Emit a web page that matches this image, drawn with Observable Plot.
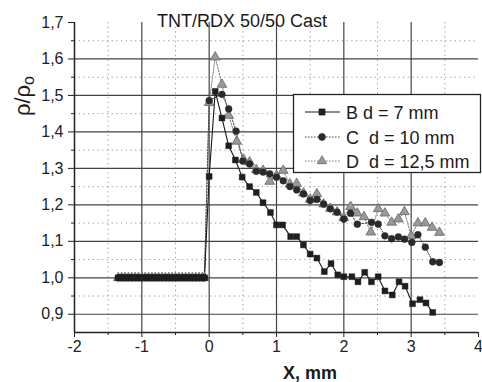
<!DOCTYPE html>
<html>
<head>
<meta charset="utf-8">
<script src="https://cdn.jsdelivr.net/npm/d3@7"></script>
<script src="https://cdn.jsdelivr.net/npm/@observablehq/plot@0.6"></script>
<style>
  html, body { margin: 0; padding: 0; background: #fff; }
  #chart { position: relative; width: 482px; height: 382px; }
</style>
</head>
<body>
<div id="chart"></div>
<script>
const title = "TNT/RDX 50/50 Cast";
const xLabel = "X, mm";
const legendLabels = ["B d = 7 mm", "C  d = 10 mm", "D  d = 12,5 mm"];

const xMajor = [-2, -1, 0, 1, 2, 3, 4];
const xMinor = [-1.5, -0.5, 0.5, 1.5, 2.5, 3.5];
const yMajor = [0.9, 1.0, 1.1, 1.2, 1.3, 1.4, 1.5, 1.6, 1.7];
const yMinor = [0.95, 1.05, 1.15, 1.25, 1.35, 1.45, 1.55, 1.65];

// flat pre-shock region (all series at rho/rho0 = 1)
const flatX = [-1.35,-1.3,-1.25,-1.2,-1.15,-1.1,-1.05,-1.0,-0.95,-0.9,-0.85,-0.8,-0.75,-0.7,-0.65,-0.6,-0.55,-0.5,-0.45,-0.4,-0.35,-0.3,-0.25,-0.2,-0.15,-0.1,-0.07];
const flatY = [1,1,1,1,1,1,1,1,1,1,1,1,1,1,1,1,1,1,1,1,1,1,1,1,1,1,1];

const bX = [0.0,0.09,0.19,0.29,0.39,0.49,0.60,0.70,0.80,0.91,1.00,1.09,1.21,1.30,1.40,1.50,1.60,1.71,1.81,1.91,2.00,2.12,2.21,2.31,2.41,2.51,2.61,2.72,2.82,2.91,3.02,3.13,3.22,3.32];
const bY = [1.278,1.511,1.438,1.362,1.323,1.276,1.25,1.234,1.206,1.179,1.145,1.145,1.113,1.113,1.09,1.065,1.054,1.017,1.039,1.008,1.003,1.003,0.989,1.015,0.989,1.003,0.964,0.953,0.989,0.977,0.929,0.94,0.931,0.905];

const cX = [0.0,0.19,0.29,0.40,0.50,0.60,0.70,0.80,0.90,1.00,1.10,1.20,1.30,1.40,1.50,1.60,1.70,1.80,1.90,2.00,2.10,2.20,2.41,2.51,2.61,2.71,2.81,2.90,3.01,3.10,3.21,3.32,3.42];
const cY = [1.486,1.503,1.463,1.402,1.32,1.312,1.292,1.29,1.285,1.276,1.266,1.25,1.241,1.23,1.212,1.215,1.202,1.189,1.18,1.161,1.177,1.147,1.152,1.147,1.115,1.107,1.112,1.106,1.097,1.118,1.084,1.044,1.042];

const dX = [0.0,0.09,0.19,0.29,0.41,0.51,0.60,0.70,0.80,0.90,1.00,1.10,1.20,1.30,1.40,1.50,1.60,1.70,1.80,1.90,2.00,2.10,2.20,2.30,2.40,2.51,2.61,2.71,2.81,2.90,3.00,3.10,3.21,3.31,3.42];
const dY = [1.48,1.605,1.53,1.445,1.374,1.325,1.317,1.296,1.294,1.264,1.28,1.294,1.257,1.258,1.232,1.215,1.23,1.202,1.19,1.18,1.165,1.195,1.177,1.167,1.125,1.189,1.177,1.152,1.161,1.181,1.115,1.15,1.15,1.138,1.124];

const toRows = (xs, ys) => xs.map((x, i) => ({x, y: ys[i]}));
const B = toRows(flatX.concat(bX), flatY.concat(bY));
const C = toRows(flatX.concat(cX), flatY.concat(cY));
const D = toRows(flatX.concat(dX), flatY.concat(dY));

const fmt = d => d.toFixed(1).replace(".", ",");
const FONT = "'Liberation Sans', Arial, sans-serif";

const plot = Plot.plot({
  width: 482,
  height: 382,
  marginLeft: 74,
  marginRight: 4,
  marginTop: 22,
  marginBottom: 50,
  style: {fontFamily: FONT, background: "#fff", color: "#222"},
  x: {domain: [-2, 4], label: null},
  y: {domain: [0.85, 1.7], label: null},
  marks: [
    Plot.ruleY(yMinor, {stroke: "#888", strokeWidth: 0.9, strokeDasharray: "1.2,3.5"}),
    Plot.ruleX(xMinor, {stroke: "#888", strokeWidth: 0.9, strokeDasharray: "1.2,3.5"}),
    Plot.ruleY(yMajor.filter(d => d < 1.7), {stroke: "#444", strokeWidth: 1.2}),
    Plot.ruleX(xMajor.filter(d => d > -2 && d < 4), {stroke: "#444", strokeWidth: 1.2}),
    Plot.axisY({ticks: yMinor, tickSize: 3, text: null, label: null, stroke: "#222"}),
    Plot.axisY({ticks: yMajor, tickSize: 6, tickPadding: 5, tickFormat: fmt, fontSize: 16, label: null, stroke: "#222", fill: "#222"}),
    Plot.axisX({ticks: xMinor, tickSize: 3, text: null, label: null, stroke: "#222"}),
    Plot.axisX({ticks: xMajor, tickSize: 5, tickPadding: 3, tickFormat: d => String(d), fontSize: 16, label: null, stroke: "#222", fill: "#222"}),
    Plot.ruleX([-2], {stroke: "#222", strokeWidth: 1.5}),
    Plot.ruleY([0.85], {stroke: "#222", strokeWidth: 1.5}),
    Plot.line(D, {x: "x", y: "y", stroke: "#777", strokeWidth: 1, strokeDasharray: "1.5,1.5"}),
    Plot.line(C, {x: "x", y: "y", stroke: "#444", strokeWidth: 1, strokeDasharray: "1.5,1.5"}),
    Plot.line(B, {x: "x", y: "y", stroke: "#1a1a1a", strokeWidth: 1.1}),
    Plot.dot(D, {x: "x", y: "y", symbol: "triangle", r: 3.6, fill: "#999", stroke: "#666", strokeWidth: 0.8}),
    Plot.dot(C, {x: "x", y: "y", symbol: "circle", r: 3.4, fill: "#2a2a2a", stroke: "#2a2a2a", strokeWidth: 0.5}),
    Plot.dot(B, {x: "x", y: "y", symbol: "square", r: 3.3, fill: "#1e1e1e", stroke: "#1e1e1e", strokeWidth: 0.5})
  ]
});

document.getElementById("chart").appendChild(plot);

const svg = d3.select(plot);

// Title
svg.append("text")
  .attr("x", 242).attr("y", 27)
  .attr("text-anchor", "middle")
  .attr("font-family", FONT).attr("font-size", 18)
  .attr("fill", "#1a1a1a")
  .text(title);

// Y label  ρ/ρo
const yl = svg.append("text")
  .attr("transform", "translate(30,96) rotate(-90)")
  .attr("text-anchor", "middle")
  .attr("font-family", FONT).attr("font-size", 22)
  .attr("fill", "#1a1a1a");
yl.append("tspan").text("ρ/ρ");
yl.append("tspan").attr("font-size", 16).attr("dy", 4).text("o");

// X label
svg.append("text")
  .attr("x", 310).attr("y", 379)
  .attr("text-anchor", "middle")
  .attr("font-family", FONT).attr("font-size", 18).attr("font-weight", "bold")
  .attr("fill", "#1a1a1a")
  .text(xLabel);

// Legend
const lg = svg.append("g");
lg.append("rect")
  .attr("x", 293.5).attr("y", 94.5).attr("width", 187).attr("height", 78)
  .attr("fill", "#fff").attr("stroke", "#222").attr("stroke-width", 1.3);
const rowsY = [112, 137, 161];
const styles = [
  {dash: null, stroke: "#1a1a1a", sym: d3.symbolSquare, fill: "#1e1e1e", sstroke: "#1e1e1e"},
  {dash: "1.5,1.5", stroke: "#444", sym: d3.symbolCircle, fill: "#2a2a2a", sstroke: "#2a2a2a"},
  {dash: "1.5,1.5", stroke: "#777", sym: d3.symbolTriangle, fill: "#999", sstroke: "#666"}
];
legendLabels.forEach((lab, i) => {
  const y = rowsY[i], s = styles[i];
  const ln = lg.append("line").attr("x1", 305).attr("x2", 340).attr("y1", y).attr("y2", y)
    .attr("stroke", s.stroke).attr("stroke-width", 1.1);
  if (s.dash) ln.attr("stroke-dasharray", s.dash);
  lg.append("path").attr("d", d3.symbol(s.sym, 36)()).attr("transform", `translate(322,${y})`)
    .attr("fill", s.fill).attr("stroke", s.sstroke).attr("stroke-width", 0.8);
  lg.append("text").attr("x", 346).attr("y", y + 6.5)
    .attr("text-anchor", "start")
    .attr("font-family", FONT).attr("font-size", 18).attr("fill", "#1a1a1a")
    .style("white-space", "pre").attr("xml:space", "preserve")
    .text(lab);
});
</script>
</body>
</html>
